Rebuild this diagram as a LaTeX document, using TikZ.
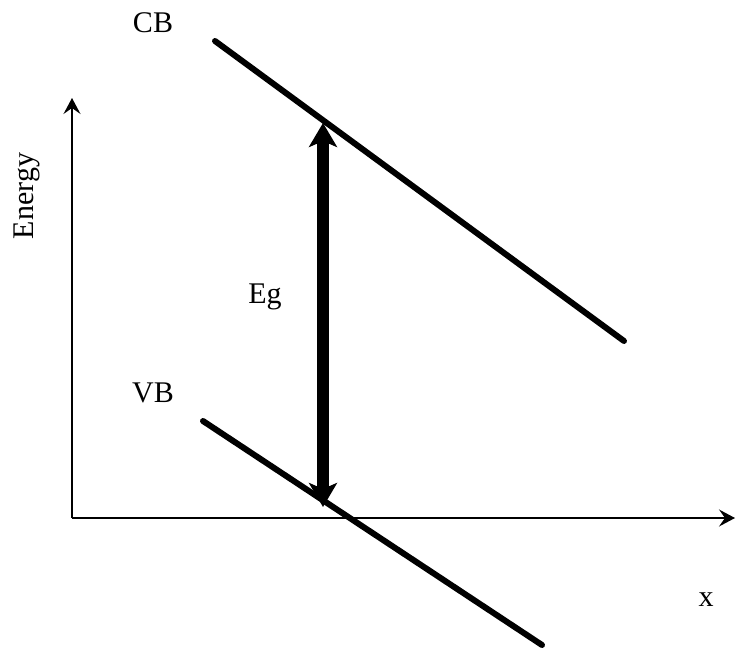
\documentclass[tikz,border=0pt]{standalone}
\usepackage{fontspec}
\setmainfont{Liberation Serif}
\usetikzlibrary{arrows.meta}
\begin{document}
\begin{tikzpicture}[x=1pt,y=-1pt,
  axis/.style={line width=1.2pt,-{Stealth[length=16pt,width=17pt,inset=6pt]}},
  band/.style={line width=6pt,line cap=round},
  gap/.style={line width=12pt,{Stealth[length=24pt,width=28pt,inset=6pt]}-{Stealth[length=24pt,width=28pt,inset=6pt]}},
  lbl/.style={font=\fontsize{30}{34}\selectfont,inner sep=0pt}]
\useasboundingbox (0,0) rectangle (736,650);
\coordinate (o) at (72,518);
\coordinate (ytop) at (72,98);
\coordinate (xend) at (735,518);
\coordinate (cb1) at (215,41);
\coordinate (cb2) at (624,341);
\coordinate (vb1) at (203,421);
\coordinate (vb2) at (542,645);
\coordinate (gtop) at (323,123);
\coordinate (gbot) at (323,507);
\draw[axis] (o) -- (ytop);
\draw[axis] (o) -- (xend);
\draw[band] (cb1) -- (cb2);
\draw[band] (vb1) -- (vb2);
\draw[gap] (gbot) -- (gtop);
\node[lbl] (cb) at (153,23) {CB};
\node[lbl] (vb) at (153,393) {VB};
\node[lbl] (eg) at (265,297) {Eg};
\node[lbl,rotate=90] (en) at (27,196) {Energy};
\node[lbl] (xl) at (706,600) {x};
\end{tikzpicture}
\end{document}
